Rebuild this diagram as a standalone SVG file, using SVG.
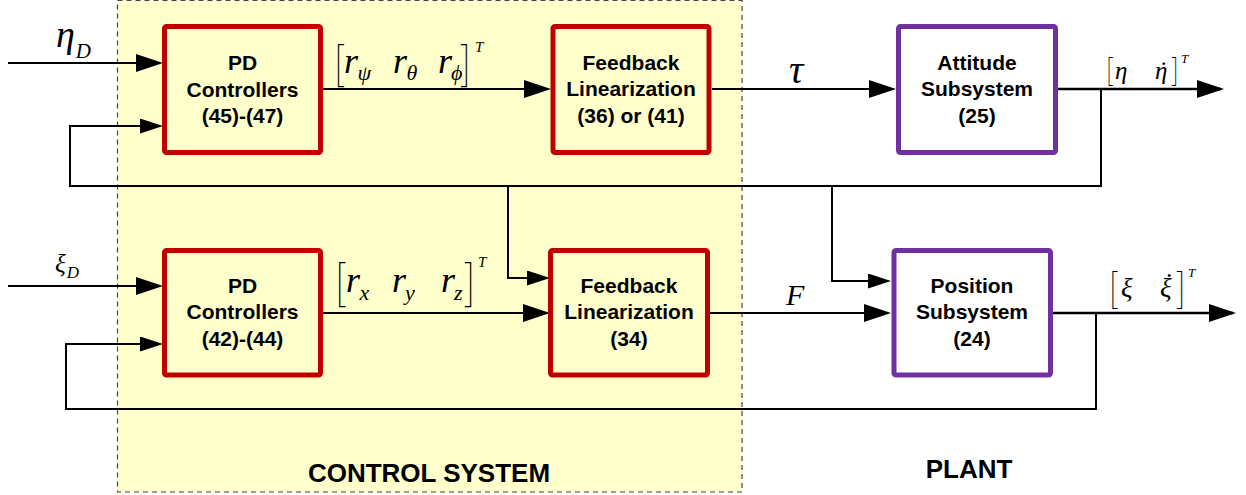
<svg xmlns="http://www.w3.org/2000/svg" width="1246" height="495" viewBox="0 0 1246 495">
<defs>
<style>
.box{stroke-width:5;}
.ctrl{fill:none;stroke:#C00000;}
.plant{fill:#FFFFFF;stroke:#7030A0;}
.lbl{font-family:"Liberation Sans",Arial,sans-serif;font-weight:bold;font-size:21px;fill:#000;text-anchor:middle;}
.big{font-family:"Liberation Sans",Arial,sans-serif;font-weight:bold;font-size:26px;fill:#000;text-anchor:middle;}
.m{font-family:"Liberation Serif","Times New Roman","DejaVu Serif",serif;font-style:italic;fill:#000;}
.br{font-family:"Roboto","DejaVu Sans",sans-serif;font-weight:100;fill:#000;}
.ln{fill:none;stroke:#000;stroke-width:2;}
.out{stroke-width:2.5;}
</style>
<marker id="ab" markerUnits="userSpaceOnUse" markerWidth="28" markerHeight="18" refX="24" refY="9" orient="auto">
<path d="M0,0 L27,9 L0,18 z" fill="#000"/>
</marker>
<marker id="as" markerUnits="userSpaceOnUse" markerWidth="24" markerHeight="15" refX="20" refY="7.5" orient="auto">
<path d="M0,0 L23,7.5 L0,15 z" fill="#000"/>
</marker>
</defs>
<g id="control-system">
<rect x="117.5" y="0.5" width="624.5" height="491.5" fill="#FFFFCC" stroke="#444" stroke-width="1.2" stroke-dasharray="5,4"/>
<text class="big" x="429" y="482">CONTROL SYSTEM</text>
</g>
<g id="plant-label">
<text class="big" x="969" y="478">PLANT</text>
</g>
<g id="connectors">
<path class="ln" d="M8,63 H160" marker-end="url(#ab)"/>
<path class="ln" d="M1101,89 V186 H70 V126 H160" marker-end="url(#as)"/>
<path class="ln" d="M323,89 H548" marker-end="url(#ab)"/>
<path class="ln" d="M712,89 H893" marker-end="url(#ab)"/>
<path class="ln out" d="M1058,89 H1221" marker-end="url(#ab)"/>
<path class="ln" d="M508,186 V278 H547" marker-end="url(#as)"/>
<path class="ln" d="M832,186 V281 H888" marker-end="url(#as)"/>
<path class="ln" d="M8,286 H160" marker-end="url(#ab)"/>
<path class="ln" d="M323,313 H547" marker-end="url(#ab)"/>
<path class="ln" d="M710,313 H888" marker-end="url(#ab)"/>
<path class="ln out" d="M1053,313 H1233" marker-end="url(#ab)"/>
<path class="ln" d="M1096,313 V409 H66 V344 H160" marker-end="url(#as)"/>
</g>
<g id="pd-attitude">
<rect class="box ctrl" x="164.5" y="26.5" width="156" height="126" rx="2"/>
<text class="lbl" x="242.5" y="70">PD</text>
<text class="lbl" x="242.5" y="96.5">Controllers</text>
<text class="lbl" x="242.5" y="123">(45)-(47)</text>
</g>
<g id="fl-attitude">
<rect class="box ctrl" x="553" y="26.5" width="156" height="126" rx="2"/>
<text class="lbl" x="631" y="69.5">Feedback</text>
<text class="lbl" x="631" y="96">Linearization</text>
<text class="lbl" x="631" y="122.5">(36) or (41)</text>
</g>
<g id="attitude-subsystem">
<rect class="box plant" x="898.5" y="26.5" width="157" height="126" rx="2"/>
<text class="lbl" x="977" y="69.5">Attitude</text>
<text class="lbl" x="977" y="96">Subsystem</text>
<text class="lbl" x="977" y="122.5">(25)</text>
</g>
<g id="pd-position">
<rect class="box ctrl" x="164.5" y="250.5" width="156" height="124.5" rx="2"/>
<text class="lbl" x="242.5" y="292.5">PD</text>
<text class="lbl" x="242.5" y="319">Controllers</text>
<text class="lbl" x="242.5" y="345.5">(42)-(44)</text>
</g>
<g id="fl-position">
<rect class="box ctrl" x="550.5" y="250.5" width="157" height="124.5" rx="2"/>
<text class="lbl" x="629" y="292.5">Feedback</text>
<text class="lbl" x="629" y="319">Linearization</text>
<text class="lbl" x="629" y="345.5">(34)</text>
</g>
<g id="position-subsystem">
<rect class="box plant" x="894" y="250.5" width="156.5" height="124.5" rx="2"/>
<text class="lbl" x="972" y="292.5">Position</text>
<text class="lbl" x="972" y="319">Subsystem</text>
<text class="lbl" x="972" y="345.5">(24)</text>
</g>
<g id="labels">
<text class="m" x="56" y="47" font-size="38">η<tspan font-size="21" dy="11" dx="1">D</tspan></text>
<text class="m" x="55" y="272" font-size="25">ξ<tspan font-size="17" dy="6" dx="1">D</tspan></text>
<text class="m" x="789" y="83" font-size="40">τ</text>
<text class="m" x="786" y="305" font-size="30">F</text>

<text class="br" x="334" y="80" font-size="44">[</text>
<text class="m" x="344" y="73.3" font-size="36">r<tspan font-size="22" dx="-0.5" dy="6.7">ψ</tspan></text>
<text class="m" x="393" y="73.3" font-size="36">r<tspan font-size="22" dx="-0.5" dy="6.7">θ</tspan></text>
<text class="m" x="438" y="73.3" font-size="36">r<tspan font-size="22" dx="-1" dy="6.7">ϕ</tspan></text>
<text class="br" x="461" y="80" font-size="44">]</text>
<text class="m" x="475" y="51.7" font-size="15">T</text>

<text class="br" x="335" y="300" font-size="46">[</text>
<text class="m" x="346" y="291.7" font-size="36">r<tspan font-size="22" dx="-0.5" dy="8.3">x</tspan></text>
<text class="m" x="392" y="291.7" font-size="36">r<tspan font-size="22" dx="-1" dy="8.3">y</tspan></text>
<text class="m" x="441" y="291.7" font-size="36">r<tspan font-size="22" dx="-1" dy="8.3">z</tspan></text>
<text class="br" x="465" y="300" font-size="46">]</text>
<text class="m" x="478" y="266.7" font-size="15">T</text>

<text class="br" x="1106" y="81" font-size="30">[</text>
<text class="m" x="1115" y="79" font-size="25">η</text>
<text class="m" x="1155" y="79" font-size="25">η<tspan dx="-9.5">˙</tspan></text>
<text class="br" x="1172" y="81" font-size="30">]</text>
<text class="m" x="1181" y="63.3" font-size="13">T</text>

<text class="br" x="1109" y="303" font-size="38">[</text>
<text class="m" x="1121" y="297" font-size="27">ξ</text>
<text class="m" x="1160" y="297" font-size="27">ξ<tspan dx="-8.5" dy="-5">˙</tspan></text>
<text class="br" x="1177" y="303" font-size="38">]</text>
<text class="m" x="1188" y="277" font-size="13">T</text>
</g>
</svg>
